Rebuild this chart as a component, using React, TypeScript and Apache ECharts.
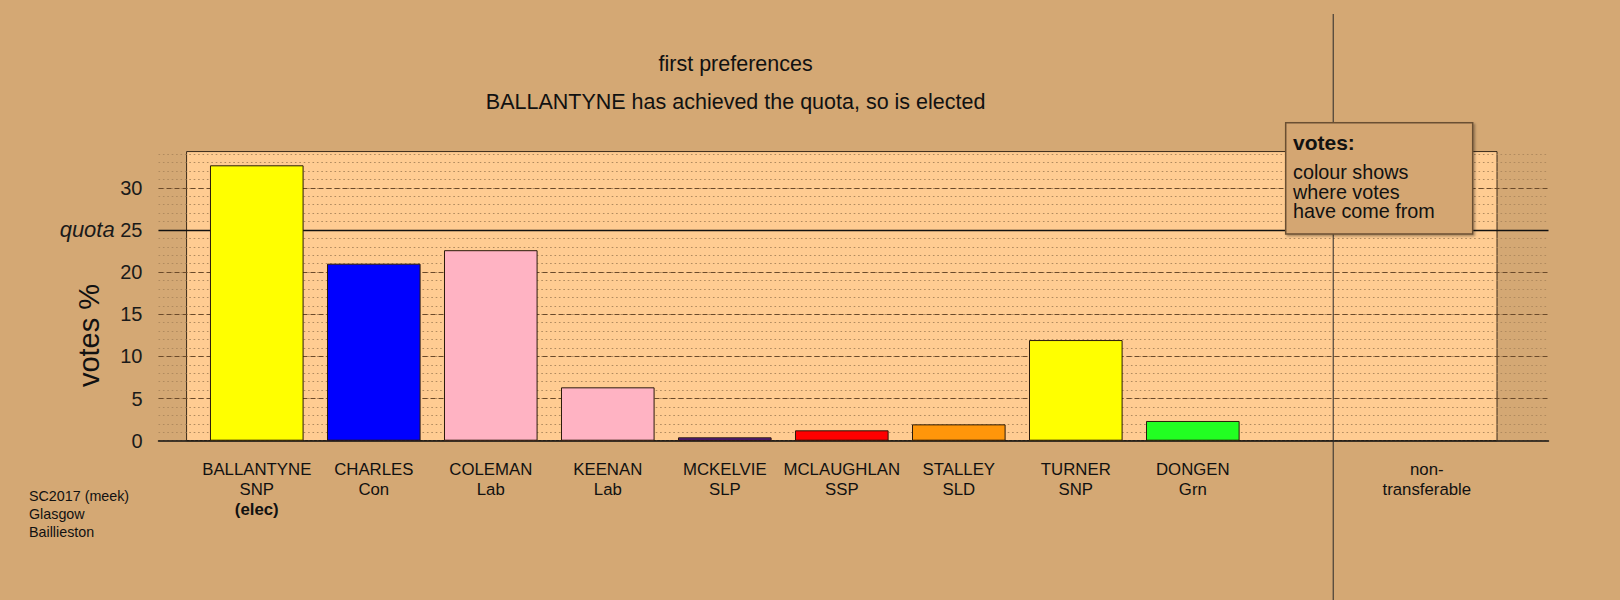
import React, { useEffect, useRef } from "react";
import * as echarts from "echarts";

// ---------- data ----------
const candidates = ["BALLANTYNE", "CHARLES", "COLEMAN", "KEENAN", "MCKELVIE", "MCLAUGHLAN", "STALLEY", "TURNER", "DONGEN"];
const parties = ["SNP", "Con", "Lab", "Lab", "SLP", "SSP", "SLD", "SNP", "Grn"];
const notes = ["(elec)", "", "", "", "", "", "", "", ""];
const votesPct = [32.67, 21.0, 22.6, 6.33, 0.4, 1.23, 1.94, 11.94, 2.34];
const nonTransferablePct = 0;
const nonTransferableLabel = "non-\ntransferable";
const quota = 25;
const labelledTicks = [0, 5, 10, 15, 20, 25, 30];
const dashedLevels = [5, 10, 15, 20, 30];
const titleLines = ["first preferences", "BALLANTYNE has achieved the quota, so is elected"];
const footnoteLines = ["SC2017 (meek)", "Glasgow", "Baillieston"];
const legendTitle = "votes:";
const legendLines = ["colour shows", "where votes", "have come from"];
const yAxisTitle = "votes %";
const quotaLabel = "quota";

// ---------- styles / layout ----------
const partyColours: Record<string, string> = {
  SNP: "#FFFF00",
  Con: "#0000FF",
  Lab: "#FFB3C3",
  SLP: "#551A8B",
  SSP: "#FF0000",
  SLD: "#FF960A",
  Grn: "#22FF22",
};
const FONT = "'Liberation Sans', Arial, Helvetica, sans-serif";
const BG = "#D4A874";
const PANEL_FILL = "#FFCC92";
const SPACE = 0.25;
const slotCentre = (i: number) => SPACE + i * (1 + SPACE) + 0.5;
const NT_SLOT = 10;
const DIVIDER_X = 12.25;
const PANEL_X0 = 0;
const PANEL_X1 = 14;
const PANEL_TOP = 34.3;

export default function App() {
  const ref = useRef<HTMLDivElement>(null);

  useEffect(() => {
    if (!ref.current) return;
    const chart = echarts.init(ref.current, undefined, { renderer: "svg" });

    const labelPositions = [...candidates.map((_, i) => slotCentre(i)), slotCentre(NT_SLOT)];
    const labelTexts = [
      ...candidates.map((c, i) =>
        notes[i] ? `${c}\n${parties[i]}\n{b|${notes[i]}}` : `${c}\n${parties[i]}`
      ),
      nonTransferableLabel,
    ];

    const barData: any[] = candidates.map((_, i) => ({
      value: [slotCentre(i), votesPct[i]],
      itemStyle: { color: partyColours[parties[i]] },
    }));
    barData.push({
      value: [slotCentre(NT_SLOT), nonTransferablePct],
      itemStyle: { color: "rgba(0,0,0,0)", borderWidth: 0 },
    });

    chart.setOption({
      animation: false,
      backgroundColor: BG,
      grid: { left: 158.5, right: 71.5, top: 154.1, bottom: 159.3, containLabel: false },
      xAxis: {
        type: "value",
        min: -0.3,
        max: 14.55,
        splitLine: { show: false },
        axisTick: { show: false },
        axisLine: { show: true, onZero: false, lineStyle: { color: "#111", width: 1.5 } },
        axisLabel: {
          customValues: labelPositions,
          margin: 19.5,
          color: "#111",
          fontFamily: FONT,
          fontSize: 16.8,
          lineHeight: 19.6,
          formatter: (v: number) => {
            const k = labelPositions.findIndex((p) => Math.abs(p - v) < 1e-6);
            return k >= 0 ? labelTexts[k] : "";
          },
          rich: {
            b: { fontFamily: FONT, fontSize: 16.8, fontWeight: "bold", lineHeight: 19.6, color: "#111" },
          },
        },
      },
      yAxis: {
        type: "value",
        min: 0,
        max: 34,
        interval: 1,
        axisLine: { show: false },
        axisTick: { show: false },
        splitLine: { show: true, lineStyle: { type: [1.6, 2.8], color: "#B08A5E", width: 1 } },
        axisLabel: {
          margin: 16,
          color: "#1a1a1a",
          fontFamily: FONT,
          fontSize: 20,
          formatter: (v: number) => {
            if (!labelledTicks.includes(v)) return "";
            if (v === quota) return `{q|${quotaLabel}} {n|${v}}`;
            return `{n|${v}}`;
          },
          rich: {
            n: { fontFamily: FONT, fontSize: 20, color: "#1a1a1a" },
            q: { fontFamily: FONT, fontSize: 22, fontStyle: "italic", color: "#1a1a1a" },
          },
        },
      },
      series: [
        {
          type: "bar",
          data: barData,
          barWidth: 93.6,
          z: 3,
          itemStyle: { borderColor: "#2a1a0a", borderWidth: 1 },
          markLine: {
            silent: true,
            symbol: "none",
            z: 1,
            label: { show: false },
            data: [
              ...dashedLevels.map((v) => ({
                yAxis: v,
                lineStyle: { type: [5, 3], color: "#6b4a2a", width: 1 },
              })),
              { yAxis: quota, lineStyle: { type: "solid", color: "#111", width: 1.3 } },
            ],
          },
        },
      ],
    });

    const tl = chart.convertToPixel({ gridIndex: 0 }, [PANEL_X0, PANEL_TOP]) as number[];
    const br = chart.convertToPixel({ gridIndex: 0 }, [PANEL_X1, 0]) as number[];
    const divX = (chart.convertToPixel({ gridIndex: 0 }, [DIVIDER_X, 0]) as number[])[0];

    chart.setOption({
      graphic: {
        elements: [
          {
            type: "rect",
            z: -10,
            shape: { x: tl[0], y: tl[1], width: br[0] - tl[0], height: br[1] - tl[1] },
            style: { fill: PANEL_FILL, stroke: "#3a2a1a", lineWidth: 1 },
            silent: true,
          },
          {
            type: "line",
            z: 50,
            shape: { x1: divX, y1: 14, x2: divX, y2: 600 },
            style: { stroke: "#2a2a2a", lineWidth: 1 },
            silent: true,
          },
          {
            type: "rect",
            z: 60,
            shape: { x: 1285.7, y: 122.7, width: 187, height: 111.3 },
            style: {
              fill: "#D4A672",
              stroke: "#6a4f33",
              lineWidth: 1.5,
              shadowBlur: 2,
              shadowOffsetX: 1.5,
              shadowOffsetY: 1.5,
              shadowColor: "rgba(0,0,0,0.35)",
            },
            silent: true,
          },
          {
            type: "text",
            z: 61,
            x: 1293,
            y: 142.3,
            style: {
              text: legendTitle,
              font: `bold 21px ${FONT}`,
              fill: "#111",
              align: "left",
              verticalAlign: "middle",
            },
          },
          ...legendLines.map((t, i) => ({
            type: "text",
            z: 61,
            x: 1293,
            y: 172.3 + i * 19.4,
            style: {
              text: t,
              font: `19.8px ${FONT}`,
              fill: "#111",
              align: "left",
              verticalAlign: "middle",
            },
          })),
          ...titleLines.map((t, i) => ({
            type: "text",
            z: 20,
            x: 735.6,
            y: i === 0 ? 64 : 102.3,
            style: {
              text: t,
              font: `21.5px ${FONT}`,
              fill: "#111",
              align: "center",
              verticalAlign: "middle",
            },
          })),
          {
            type: "text",
            z: 20,
            x: 29,
            y: 487,
            style: {
              text: footnoteLines.join("\n"),
              font: `14.3px ${FONT}`,
              lineHeight: 18,
              fill: "#111",
              align: "left",
              verticalAlign: "top",
            },
          },
          {
            type: "text",
            z: 20,
            x: 89,
            y: 335.5,
            rotation: Math.PI / 2,
            style: {
              text: yAxisTitle,
              font: `29px ${FONT}`,
              fill: "#111",
              align: "center",
              verticalAlign: "middle",
            },
          },
        ],
      },
    });

    return () => chart.dispose();
  }, []);

  return (
    <div
      ref={ref}
      style={{ position: "absolute", left: 0, top: 0, width: 1620, height: 600 }}
    />
  );
}
